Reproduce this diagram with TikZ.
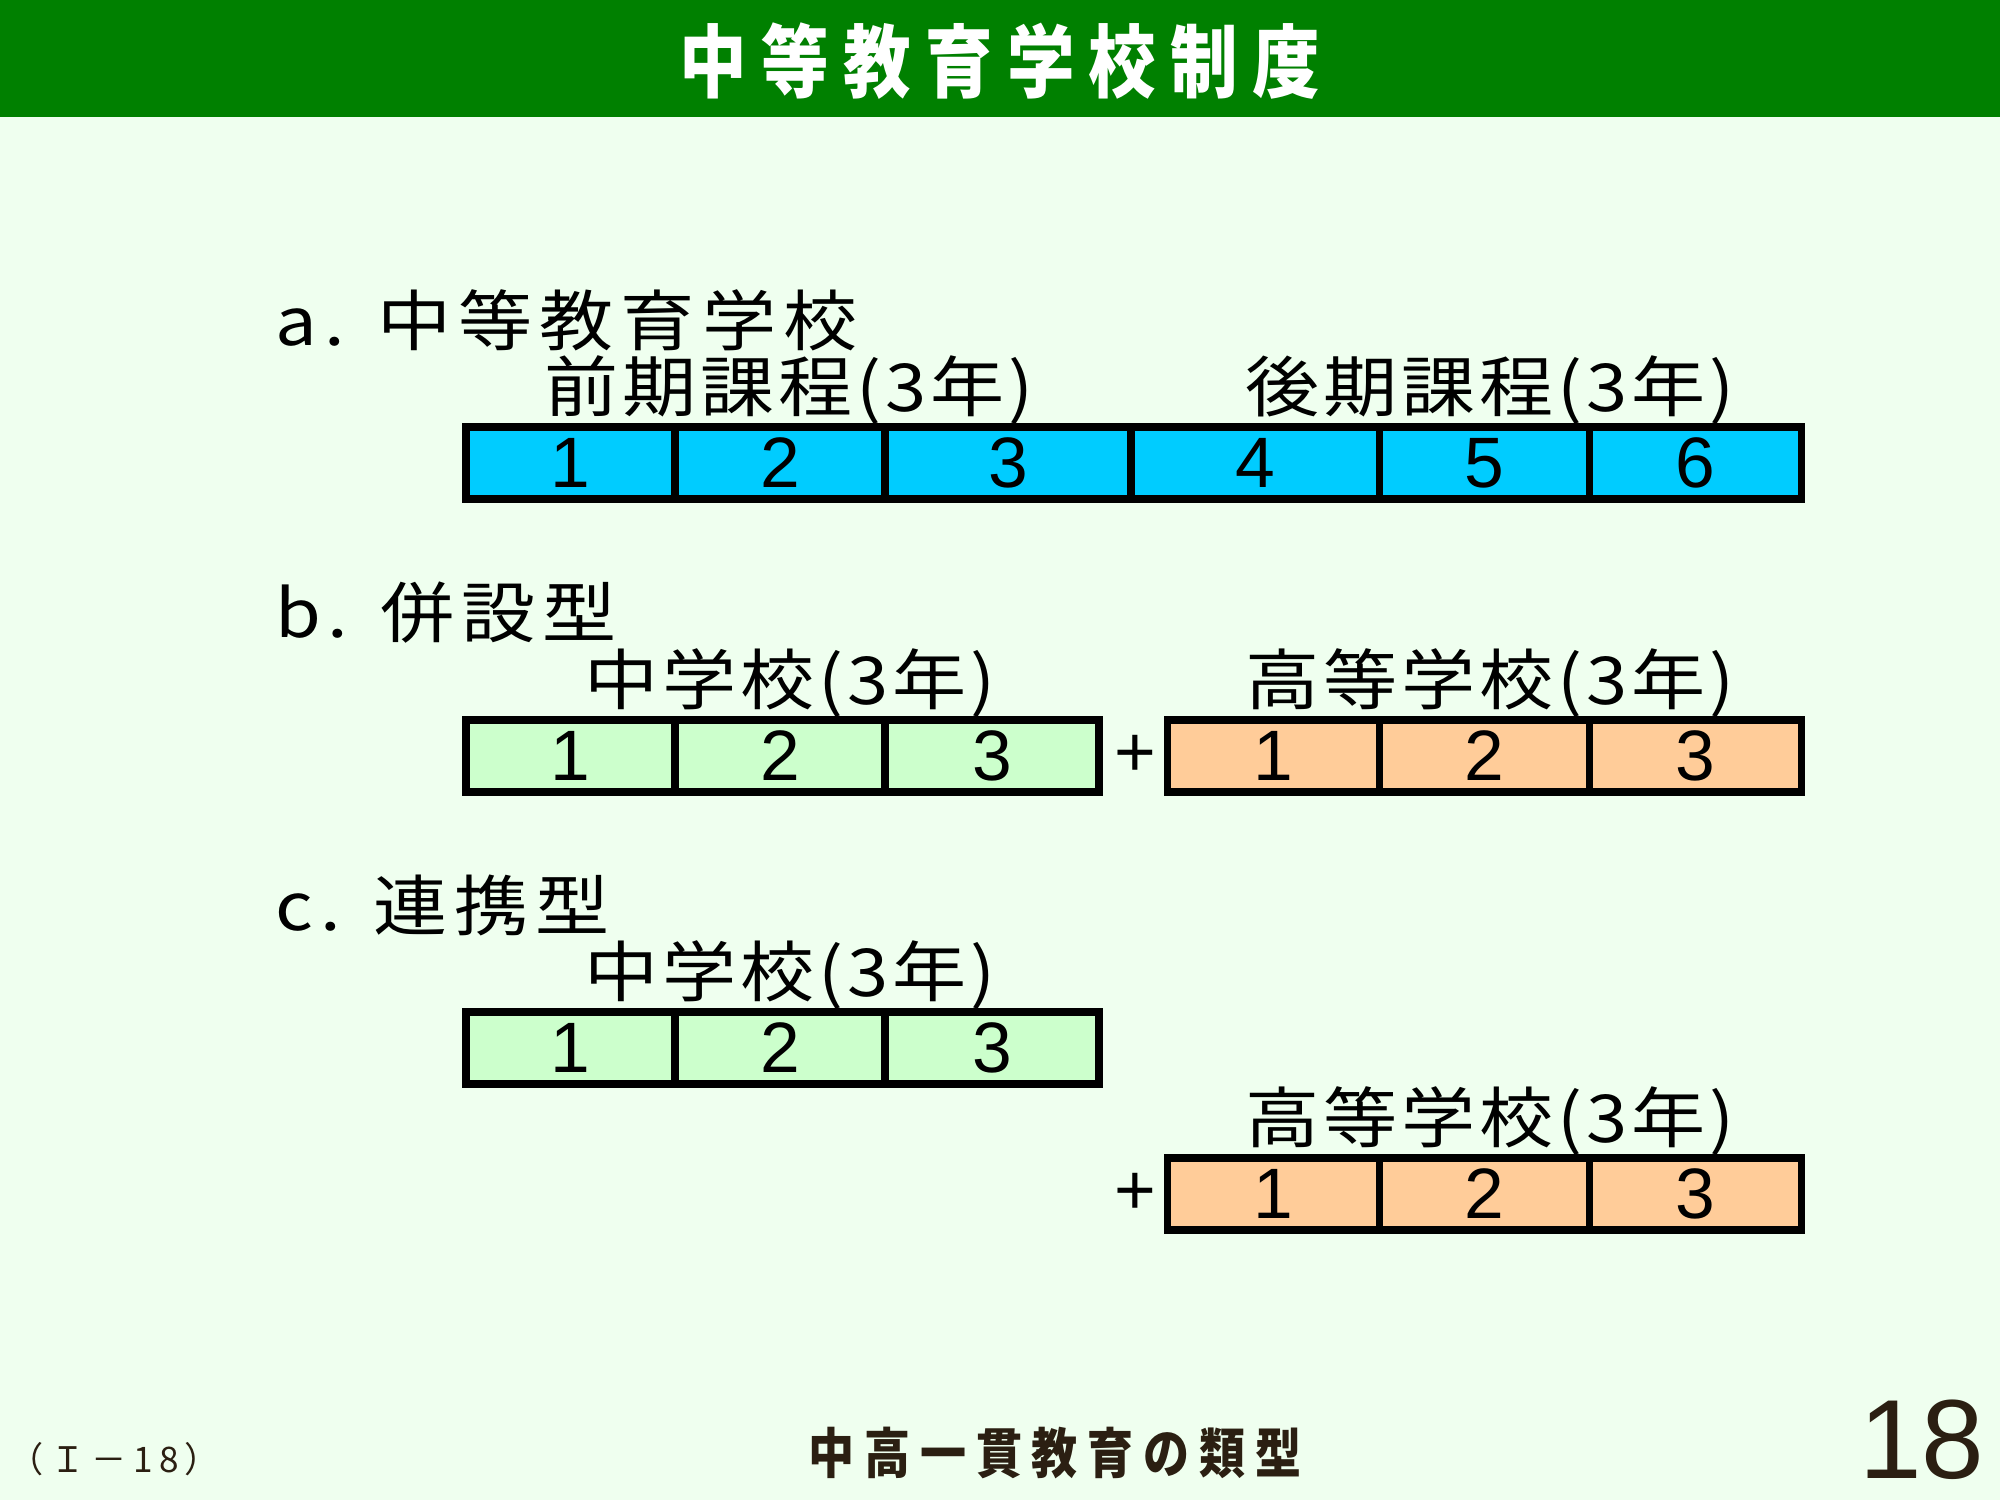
\documentclass[tikz,border=0pt]{standalone}
\usepackage{fontspec}
\usetikzlibrary{positioning}
\newfontfamily\jpfont{Noto Sans CJK JP}[FakeStretch=1.12, LetterSpace=6]
\newfontfamily\rowfont{Noto Sans CJK JP}[FakeStretch=1.12, LetterSpace=11]
\newfontfamily\codefont{Noto Sans CJK JP}[LetterSpace=18]
\newfontfamily\headfont{Noto Sans CJK JP}[FakeStretch=0.85, LetterSpace=18]
\newfontfamily\numfont{Liberation Sans}
\definecolor{cHead}{HTML}{008000}
\definecolor{cPaper}{HTML}{EFFFEF}
\definecolor{cSky}{HTML}{00CCFF}
\definecolor{cMint}{HTML}{CCFFCC}
\definecolor{cPeach}{HTML}{FFCC99}
\definecolor{cBrown}{HTML}{2B1F12}
\tikzset{
  cell/.style={draw=black, line width=2pt, line join=miter},
  num/.style={font=\numfont\fontsize{20.3}{22}\selectfont, inner sep=0pt},
  rowlab/.style={font=\rowfont\fontsize{18.8}{22}\selectfont, anchor=west, inner sep=0pt},
  sublab/.style={font=\jpfont\fontsize{18.8}{22}\selectfont, inner sep=0pt},
}
\begin{document}
\begin{tikzpicture}[x=0.01cm, y=-0.01cm]
% one row of year cells: #1 name prefix, #2 fill, #3 left/right edges
\newcommand{\yearcells}[3]{%
  \foreach \l/\r [count=\k] in {#3} {%
    \draw[cell, fill=#2] (\l,0) rectangle (\r,72);
    \node[num] (#1\k) at ({(\l+\r)/2},36) {\k};}}
\fill[cPaper] (0,0) rectangle (2000,1500);
\useasboundingbox (0,0) rectangle (2000,1500);

% ================================================================ header
\fill[cHead] (0,0) rectangle (2000,117);
\node[font=\headfont\bfseries\fontsize{22.6}{24}\selectfont, text=white, inner sep=0pt]
  (title) at (1000,61) {中等教育学校制度};

% ======================================================= a: one school
\begin{scope}[shift={(0,427)}]
  \node[rowlab] (laba) at (275,-107) {a. 中等教育学校};
  \node[sublab] (early) at (789,-37) {前期課程(3年)};
  \node[sublab] (late) at (1490,-37) {後期課程(3年)};
  \yearcells{a}{cSky}{466/675,675/885,885/1131,1131/1379,1379/1589,1589/1801}
\end{scope}

% ================================================= b: on the same site
\begin{scope}[shift={(0,720)}]
  \node[rowlab] (labb) at (275,-107) {b. 併設型};
  \node[sublab] (juniorb) at (790,-37) {中学校(3年)};
  \node[sublab] (seniorb) at (1490,-37) {高等学校(3年)};
  \yearcells{bj}{cMint}{466/675,675/885,885/1099}
  \node[num] (plusb) at (1135,36) {+};
  \yearcells{bs}{cPeach}{1167/1379,1379/1589,1589/1801}
\end{scope}

% ================================================ c: two linked schools
\begin{scope}[shift={(0,1012)}]
  \node[rowlab] (labc) at (275,-107) {c. 連携型};
  \node[sublab] (juniorc) at (790,-37) {中学校(3年)};
  \yearcells{cj}{cMint}{466/675,675/885,885/1099}
\end{scope}
\begin{scope}[shift={(0,1158)}]
  \node[sublab] (seniorc) at (1490,-37) {高等学校(3年)};
  \node[num] (plusc) at (1135,36) {+};
  \yearcells{cs}{cPeach}{1167/1379,1379/1589,1589/1801}
\end{scope}

% ================================================================ footer
\node[font=\codefont\fontsize{10}{12}\selectfont, text=cBrown, anchor=west, inner sep=0pt]
  (code) at (8,1459) {（Ｉ－18）};
\node[font=\headfont\bfseries\fontsize{15.4}{17}\selectfont, text=cBrown, inner sep=0pt]
  (subject) at (1055,1453) {中高一貫教育の類型};
\node[font=\numfont\fontsize{32}{34}\selectfont, text=cBrown, anchor=base east, inner sep=0pt]
  (page) at (1985,1478) {18};
\end{tikzpicture}
\end{document}
